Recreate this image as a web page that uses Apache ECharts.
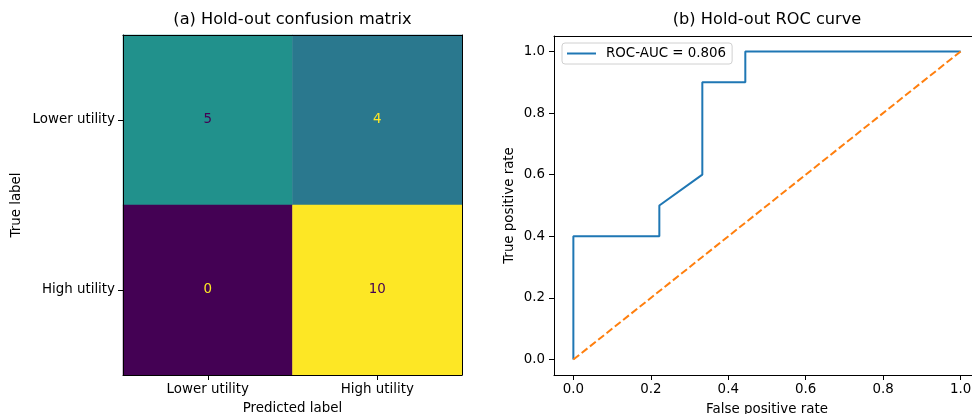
<!DOCTYPE html>
<html>
<head>
<meta charset="utf-8">
<script src="https://cdn.jsdelivr.net/npm/echarts@6/dist/echarts.min.js"></script>
<style>
  html, body { margin: 0; padding: 0; background: #fff; }
  #chart { width: 972px; height: 414px; }
</style>
</head>
<body>
<div id="chart"></div>
<script>
// confusion matrix: rows = true label, cols = predicted label
const classNames = ['Lower utility', 'High utility']
const cmRows = [
  [5, 4],
  [0, 10]
]
// ROC curve
const rocFpr = [0, 0, 0.222, 0.222, 0.333, 0.333, 0.444, 0.444, 1]
const rocTpr = [0, 0.4, 0.4, 0.5, 0.6, 0.9, 0.9, 1, 1]
const chanceX = [0, 1]
const chanceY = [0, 1]
const rocTicks = [0, 0.2, 0.4, 0.6, 0.8, 1.0]
const aucLabel = 'ROC-AUC = 0.806'

const viridis = ['#440154', '#482475', '#414487', '#355f8d', '#2a788e', '#21918c',
  '#22a884', '#44bf70', '#7ad151', '#bddf26', '#fde725']

const font = 'DejaVu Sans'
const fs = 13.4

let cmMin = Infinity, cmMax = -Infinity
cmRows.forEach(r => r.forEach(v => { cmMin = Math.min(cmMin, v); cmMax = Math.max(cmMax, v) }))
const thresh = (cmMin + cmMax) / 2
const cmData = []
cmRows.forEach((row, r) => {
  row.forEach((v, c) => {
    cmData.push({
      value: [c, r, v],
      label: { color: v < thresh ? viridis[viridis.length - 1] : viridis[0] }
    })
  })
})

const rocData = rocFpr.map((x, i) => [x, rocTpr[i]])
const chanceData = chanceX.map((x, i) => [x, chanceY[i]])

const spine = { show: true, onZero: false, lineStyle: { color: '#000', width: 1 } }
const tick = { show: true, length: 5, lineStyle: { color: '#000', width: 1 } }
const tickLabel = { color: '#000', fontFamily: font, fontSize: fs }
const axName = { color: '#000', fontFamily: font, fontSize: fs }

const chart = echarts.init(document.getElementById('chart'))
chart.setOption({
  animation: false,
  backgroundColor: '#fff',
  textStyle: { fontFamily: font },
  title: [
    {
      text: '(a) Hold-out confusion matrix', left: 292.5, top: 12, textAlign: 'center', padding: 0,
      textStyle: { fontSize: 16.2, fontWeight: 'normal', color: '#000', fontFamily: font }
    },
    {
      text: '(b) Hold-out ROC curve', left: 767, top: 12, textAlign: 'center', padding: 0,
      textStyle: { fontSize: 16.2, fontWeight: 'normal', color: '#000', fontFamily: font }
    }
  ],
  legend: {
    data: [aucLabel],
    left: 562, top: 43,
    padding: [4, 6, 4, 5],
    icon: 'rect',
    itemWidth: 29, itemHeight: 2, itemGap: 10,
    borderColor: '#d0d0d0', borderWidth: 1, borderRadius: 3,
    backgroundColor: 'rgba(255,255,255,0.8)',
    textStyle: { color: '#000', fontFamily: font, fontSize: fs, padding: [0, 0, 0, 5] }
  },
  visualMap: {
    show: false, seriesIndex: 0, min: 0, max: 10,
    inRange: { color: viridis }
  },
  grid: [
    { left: 123, top: 35, width: 339, height: 340, containLabel: false, outerBoundsMode: 'none' },
    { left: 554, top: 36, width: 426, height: 339, containLabel: false, outerBoundsMode: 'none' }
  ],
  xAxis: [
    {
      gridIndex: 0, type: 'category', data: classNames, position: 'bottom', z: 10,
      name: 'Predicted label', nameLocation: 'middle', nameGap: 27, nameTextStyle: axName,
      axisLine: spine, axisTick: Object.assign({ alignWithLabel: true }, tick),
      axisLabel: Object.assign({ margin: 8 }, tickLabel), splitLine: { show: false }
    },
    {
      gridIndex: 0, type: 'category', data: classNames, position: 'top', z: 10,
      axisLine: spine, axisTick: { show: false }, axisLabel: { show: false }, splitLine: { show: false }
    },
    {
      gridIndex: 1, type: 'value', min: -0.05, max: 1.05, position: 'bottom', z: 10,
      name: 'False positive rate', nameLocation: 'middle', nameGap: 28, nameTextStyle: axName,
      axisLine: spine,
      axisTick: Object.assign({ customValues: rocTicks }, tick),
      axisLabel: Object.assign({ customValues: rocTicks, margin: 8, formatter: v => v.toFixed(1) }, tickLabel),
      splitLine: { show: false }
    },
    {
      gridIndex: 1, type: 'value', min: -0.05, max: 1.05, position: 'top', z: 10,
      axisLine: spine, axisTick: { show: false }, axisLabel: { show: false }, splitLine: { show: false }
    }
  ],
  yAxis: [
    {
      gridIndex: 0, type: 'category', data: classNames, inverse: true, position: 'left', z: 10,
      name: 'True label', nameLocation: 'middle', nameGap: 100, nameTextStyle: axName,
      axisLine: spine, axisTick: Object.assign({ alignWithLabel: true }, tick),
      axisLabel: Object.assign({ margin: 8 }, tickLabel), splitLine: { show: false }
    },
    {
      gridIndex: 0, type: 'category', data: classNames, inverse: true, position: 'right', z: 10,
      axisLine: spine, axisTick: { show: false }, axisLabel: { show: false }, splitLine: { show: false }
    },
    {
      gridIndex: 1, type: 'value', min: -0.05, max: 1.05, position: 'left', z: 10,
      name: 'True positive rate', nameLocation: 'middle', nameGap: 38, nameTextStyle: axName,
      axisLine: spine,
      axisTick: Object.assign({ customValues: rocTicks }, tick),
      axisLabel: Object.assign({ customValues: rocTicks, margin: 9, formatter: v => v.toFixed(1) }, tickLabel),
      splitLine: { show: false }
    }
  ],
  series: [
    {
      type: 'heatmap', xAxisIndex: 0, yAxisIndex: 0,
      data: cmData,
      label: { show: true, fontFamily: font, fontSize: fs },
      emphasis: { disabled: true }
    },
    {
      name: aucLabel, type: 'line', xAxisIndex: 2, yAxisIndex: 2,
      data: rocData, symbol: 'none', showSymbol: false,
      lineStyle: { color: '#1f77b4', width: 2 }, itemStyle: { color: '#1f77b4' }
    },
    {
      name: 'chance', type: 'line', xAxisIndex: 2, yAxisIndex: 2,
      data: chanceData, symbol: 'none', showSymbol: false,
      lineStyle: { color: '#ff7f0e', width: 2, type: [7.4, 3.2] }, itemStyle: { color: '#ff7f0e' }
    }
  ]
})
</script>
</body>
</html>
